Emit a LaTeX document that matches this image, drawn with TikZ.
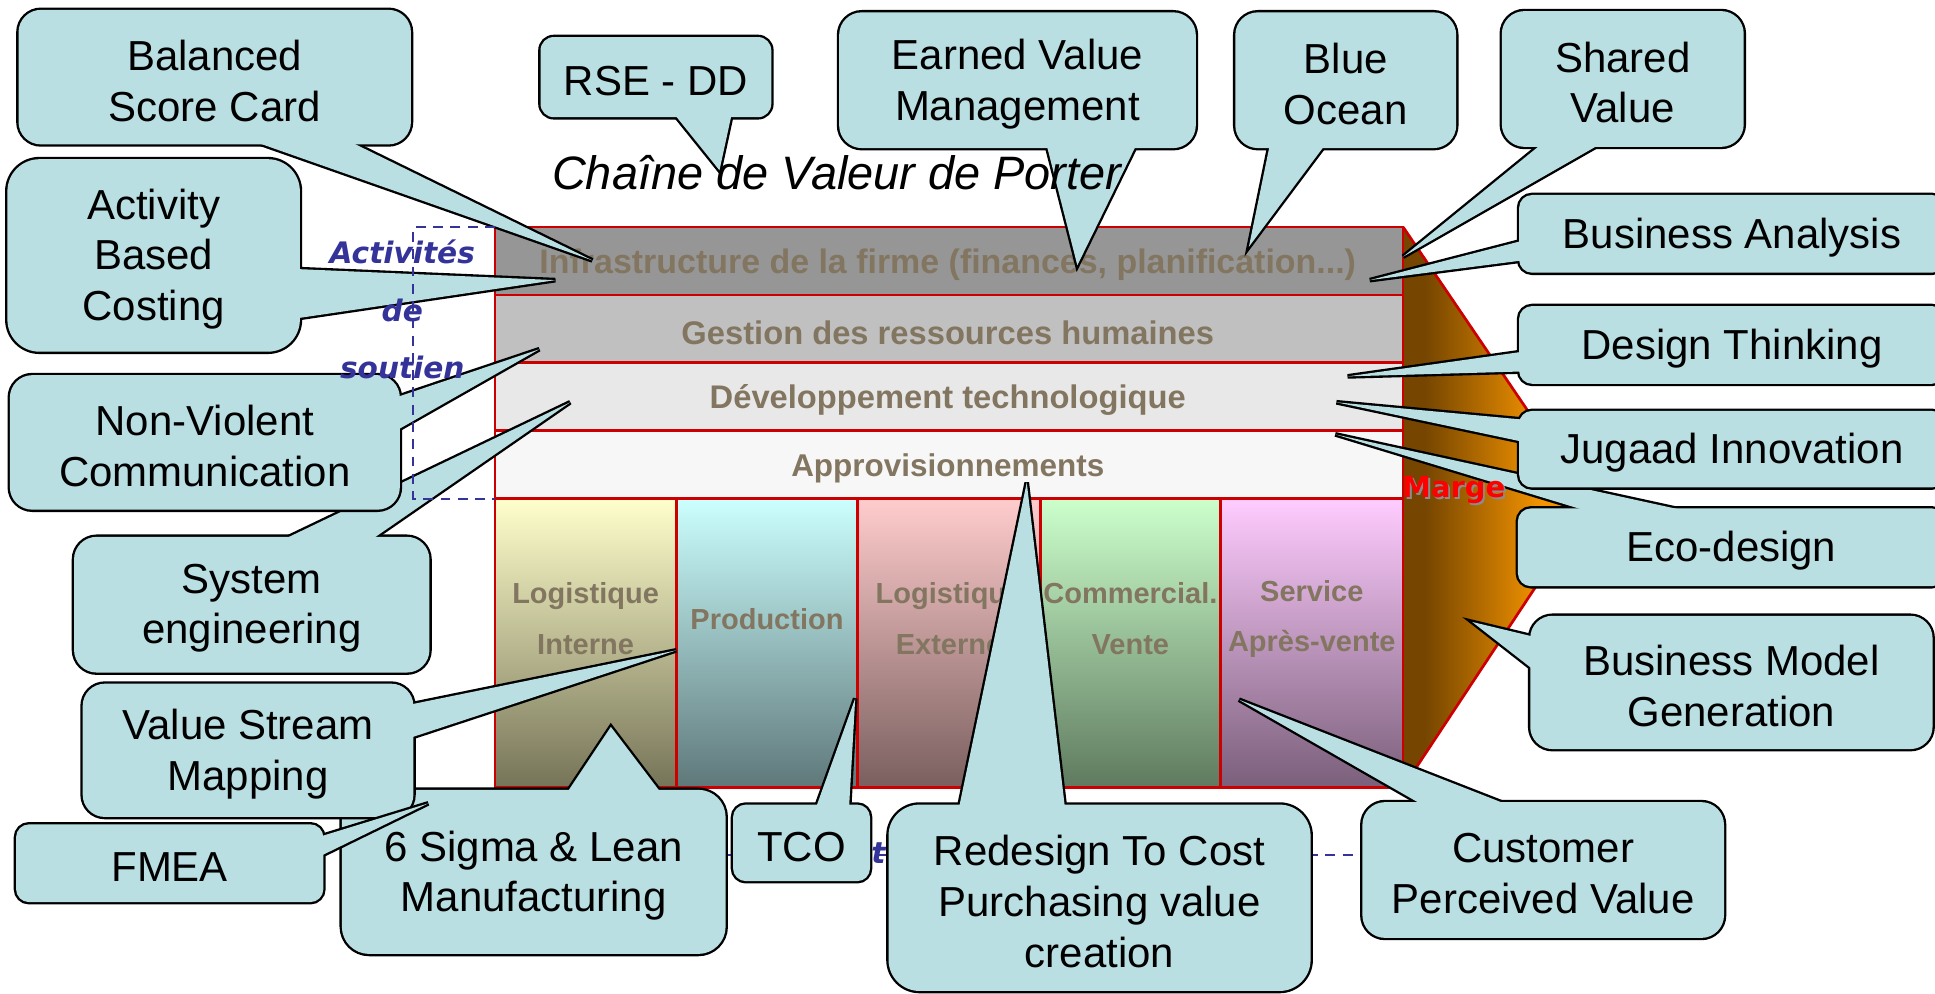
\documentclass[tikz,border=0pt]{standalone}
\usepackage{fontspec}
\setmainfont{Liberation Sans}
\newfontfamily\dejavu{DejaVu Sans}
\usetikzlibrary{calc}
\definecolor{cfillc}{RGB}{185,223,227}
\definecolor{bartext}{RGB}{131,118,97}
\definecolor{barred}{RGB}{204,0,0}
\definecolor{actblue}{RGB}{51,51,153}
\definecolor{infra}{RGB}{150,150,150}
\definecolor{grh}{RGB}{192,192,192}
\definecolor{devt}{RGB}{232,232,232}
\definecolor{appro}{RGB}{247,247,247}
\definecolor{liT}{RGB}{255,255,204}\definecolor{liB}{RGB}{118,116,88}
\definecolor{prT}{RGB}{204,255,255}\definecolor{prB}{RGB}{95,120,122}
\definecolor{leT}{RGB}{255,204,204}\definecolor{leB}{RGB}{122,95,95}
\definecolor{cvT}{RGB}{204,255,204}\definecolor{cvB}{RGB}{95,122,95}
\definecolor{saT}{RGB}{255,204,255}\definecolor{saB}{RGB}{122,95,122}
\definecolor{margeL}{RGB}{118,70,0}
\definecolor{margeR}{RGB}{245,148,0}

\tikzset{
  cline/.style={draw=black, line width=3.8pt, line join=miter, miter limit=6},
  cfill/.style={fill=cfillc},
  ctext/.style={align=center, font=\fontsize{34}{41}\selectfont, text=black, inner sep=0pt, yshift=-3pt},
  bandline/.style={draw=barred, line width=2.2pt},
  bandtext/.style={text=bartext, inner sep=0pt, yshift=-2.5pt},
  primtext/.style={text=bartext, align=center, inner sep=0pt, font=\bfseries\fontsize{23.5}{41}\selectfont},
  bracket/.style={draw=actblue, line width=1.6pt, dash pattern=on 8pt off 6pt},
  acttext/.style={text=actblue, align=center, inner sep=0pt, font=\dejavu\bfseries\itshape\fontsize{24}{46.5}\selectfont},
  margetext/.style={inner sep=0pt, font=\dejavu\bfseries\fontsize{23.5}{28}\selectfont},
}

\newcommand{\callout}[7]{%
  \pgfmathsetmacro{\calloutrad}{min(#4-#2,#5-#3)/6}%
  \draw[cline, rounded corners=\calloutrad pt] (#2,#3) rectangle (#4,#5);
  \draw[cline] #6 -- cycle;
  \fill[cfill, rounded corners=\calloutrad pt] (#2,#3) rectangle (#4,#5);
  \fill[cfill] #6 -- cycle;
  \node[ctext] (#1) at ({(#2+#4)/2},{(#3+#5)/2}) {#7};
}

\begin{document}
\begin{tikzpicture}[x=1pt,y=-1pt]
\useasboundingbox (0,0) rectangle (1568,805);
\clip (0,0) rectangle (1568,805);

% support activities bands
\fill[infra] (401,184) rectangle (1137,239);
\fill[grh] (401,239) rectangle (1137,294);
\fill[devt] (401,294) rectangle (1137,349);
\fill[appro] (401,349) rectangle (1137,404);

% primary activity columns
\shade[top color=liT, bottom color=liB] (401,404) rectangle (548,638);
\shade[top color=prT, bottom color=prB] (548,404) rectangle (695,638);
\shade[top color=leT, bottom color=leB] (695,404) rectangle (843,638);
\shade[top color=cvT, bottom color=cvB] (843,404) rectangle (989,638);
\shade[top color=saT, bottom color=saB] (989,404) rectangle (1137,638);

% marge
\begin{scope}
  \clip (1137,184) -- (1289,408) -- (1137,638) -- cycle;
  \fill[margeL] (1130,180) rectangle (1300,645);
  \fill[margeR] (1250,180) rectangle (1300,645);
  \shade[left color=margeL, right color=margeR] (1155,180) rectangle (1250,645);
\end{scope}
\draw[bandline] (1137,184) -- (1289,408) -- (1137,638);

% borders
\draw[bandline] (401,184) rectangle (1137,638);
\draw[bandline] (401,239) -- (1137,239);
\draw[bandline] (401,294) -- (1137,294);
\draw[bandline] (401,349) -- (1137,349);
\draw[bandline] (401,404) -- (1137,404);
\draw[bandline] (548,404) -- (548,638);
\draw[bandline] (695,404) -- (695,638);
\draw[bandline] (843,404) -- (843,638);
\draw[bandline] (989,404) -- (989,638);

% band texts
\node[bandtext, font=\bfseries\fontsize{27.5}{30}\selectfont] (infratxt) at (768,212) {Infrastructure de la firme (finances, planification...)};
\node[bandtext, font=\bfseries\fontsize{26.5}{30}\selectfont] (grhtxt) at (768,267) {Gestion des ressources humaines};
\node[bandtext, font=\bfseries\fontsize{26.5}{30}\selectfont] (devtxt) at (768,322) {Développement technologique};
\node[bandtext, font=\bfseries\fontsize{25.5}{30}\selectfont] (approtxt) at (768,377) {Approvisionnements};

\node[primtext] (litxt) at (474.5,501.5) {Logistique\\Interne};
\node[primtext] (prtxt) at (621.5,501.5) {Production};
\node[primtext] (letxt) at (769,501.5) {Logistique\\Externe};
\node[primtext] (cvtxt) at (916,501.5) {Commercial.\\Vente};
\node[primtext] (satxt) at (1063,501.5) {Service\\Après-vente};

% primary activities bracket (under callouts)
\draw[bracket] (401,638) -- (401,693) -- (1137,693) -- (1137,638);
\node[acttext] (principales) at (768,693) {Activités principales};

% callouts
\callout{bsc}{15}{8}{333}{117}{(480,211) -- (204,114) -- (282,114)}{Balanced\\Score Card}
\callout{abc}{6}{129}{243}{285}{(450,227) -- (240,218) -- (240,258)}{Activity\\Based\\Costing}
\callout{sys}{60}{435}{348}{545}{(462,326) -- (228,438) -- (300,438)}{System\\engineering}
\callout{nvc}{8}{304}{324}{413}{(437,283) -- (321,322) -- (321,349)}{Non-Violent\\Communication}
\callout{six}{277}{640}{588}{773}{(495,589) -- (459,643) -- (536,643)}{6 Sigma \& Lean\\Manufacturing}
\callout{vsm}{67}{554}{335}{662}{(548,527) -- (332,571) -- (332,598)}{Value Stream\\Mapping}
\callout{fmea}{13}{668}{262}{731}{(347,651) -- (259,678) -- (259,694)}{FMEA}
\callout{tco}{594}{652}{705}{714}{(693,566) -- (661,655) -- (688,655)}{TCO}
\callout{rtc}{720}{652}{1062}{803}{(832,391) -- (777,655) -- (863,655)}{Redesign To Cost\\Purchasing value\\creation}
\callout{cpv}{1104}{650}{1397}{760}{(1004,567) -- (1154,653) -- (1224,653)}{Customer\\Perceived Value}
\callout{bmg}{1240}{499}{1566}{607}{(1193,504) -- (1243,516) -- (1243,543)}{Business Model\\Generation}
\callout{eco}{1230}{412}{1576}{475}{(1082,352) -- (1289,415) -- (1371,415)}{Eco-design}
\callout{jug}{1231}{333}{1576}{395}{(1083,326) -- (1234,340) -- (1234,358)}{Jugaad Innovation}
\callout{dt}{1231}{248}{1576}{311}{(1092,305) -- (1234,285) -- (1234,301)}{Design Thinking}
\callout{ba}{1231}{158}{1576}{221}{(1110,227) -- (1234,195) -- (1234,211)}{Business Analysis}
\callout{sv}{1217}{9}{1413}{119}{(1137,208) -- (1250,116) -- (1298,116)}{Shared\\Value}
\callout{bo}{1001}{10}{1180}{120}{(1012,200) -- (1029,117) -- (1074,117)}{Blue\\Ocean}
\callout{evm}{680}{10}{969}{120}{(873,215) -- (848,117) -- (921,117)}{Earned Value\\Management}
\callout{rse}{438}{30}{625}{95}{(583,138) -- (546,92) -- (593,92)}{RSE - DD}

% support activities bracket (over callouts)
\draw[bracket] (401,184) -- (335,184) -- (335,404) -- (401,404);
\node[acttext] (soutien) at (326,251) {Activités\\de\\soutien};

% title
\node[inner sep=0pt, font=\itshape\fontsize{38}{44}\selectfont] (title) at (678,140) {Chaîne de Valeur de Porter};

% marge label
\node[margetext, text=black!45] (margeshadow) at (1179.5,398.5) {Marge};
\node[margetext, text=red] (marge) at (1178,397) {Marge};
\end{tikzpicture}
\end{document}
